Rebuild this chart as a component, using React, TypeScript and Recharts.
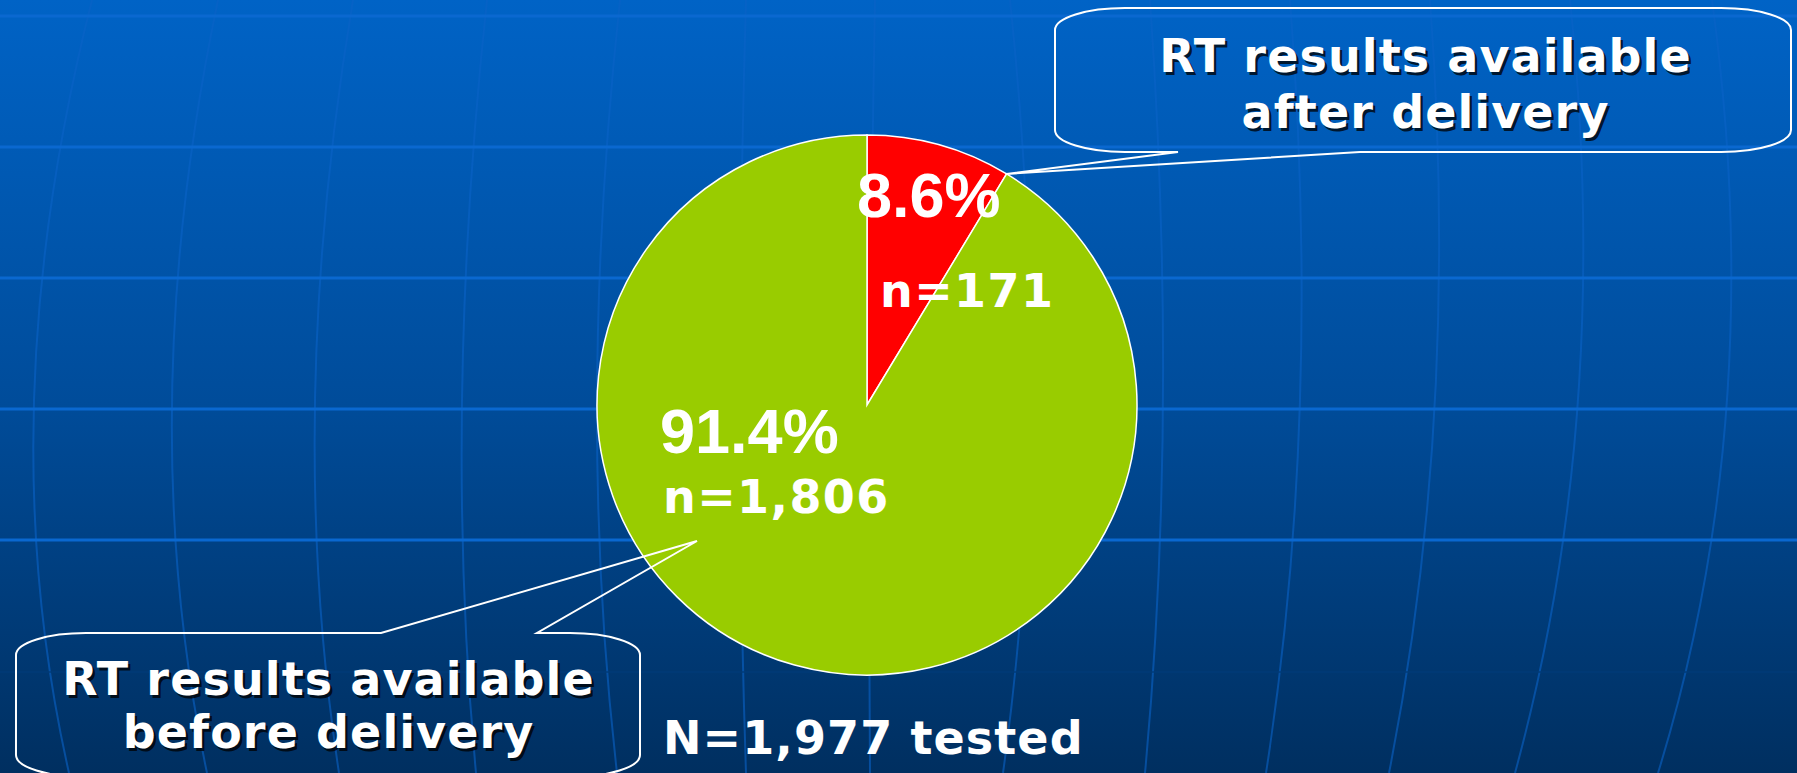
import { PieChart, Pie, Cell } from 'recharts';

const W = 1797;
const H = 773;
const FONT = '"Liberation Sans", Arial, sans-serif';
const WIDE_FONT = '"DejaVu Sans", Verdana, sans-serif';

// data
const categories = ['RT results available after delivery', 'RT results available before delivery'];
const counts = [171, 1806];
const sliceColors = ['#FF0000', '#99CC00'];
const calloutLines = [
  ['RT results available', 'after delivery'],
  ['RT results available', 'before delivery'],
];

const total = counts.reduce((a, b) => a + b, 0);
const pieData = categories.map((name, i) => ({ name, value: counts[i] }));

// slide background: horizontal bands and globe meridians (x at y=0, 400, 773)
const bandYs = [16, 147, 278, 409, 540];
const meridians = [
  [92, 34, 69], [218, 172, 207], [353, 315, 339], [487, 462, 476], [620, 597, 617],
  [746, 740, 746], [875, 870, 870], [1010, 1030, 1003], [1150, 1163, 1145],
  [1290, 1300, 1266], [1430, 1435, 1389], [1570, 1578, 1515], [1712, 1727, 1658],
];

// label text placement, relative to pie centre
const labelLayout = [
  { pct: { dx: -10, dy: -188 }, n: { dx: 13, dy: -98 } },
  { pct: { dx: -207, dy: 48 }, n: { dx: -204, dy: 108 } },
];

// callout boxes
const callouts = [
  { x: 1055, y: 8, w: 736, h: 144, baseL: 1178, baseR: 1360, edge: 'bottom', textX: 1425, lineYs: [72, 128] },
  { x: 16, y: 633, w: 624, h: 144, baseL: 381, baseR: 537, edge: 'top', textX: 328, lineYs: [695, 748], tip: { dx: -170, dy: 136 } },
];

const RAD = Math.PI / 180;
const LS = 1.1;

function calloutPath(c: any, tx: number, ty: number) {
  const rx = 70;
  const ry = 22;
  const { x, y, w, h } = c;
  const top =
    c.edge === 'top'
      ? `L ${c.baseL} ${y} L ${tx} ${ty} L ${c.baseR} ${y} L ${x + w - rx} ${y}`
      : `L ${x + w - rx} ${y}`;
  const bottom =
    c.edge === 'bottom'
      ? `L ${c.baseR} ${y + h} L ${tx} ${ty} L ${c.baseL} ${y + h} L ${x + rx} ${y + h}`
      : `L ${x + rx} ${y + h}`;
  return [
    `M ${x + rx} ${y}`,
    top,
    `A ${rx} ${ry} 0 0 1 ${x + w} ${y + ry}`,
    `L ${x + w} ${y + h - ry}`,
    `A ${rx} ${ry} 0 0 1 ${x + w - rx} ${y + h}`,
    bottom,
    `A ${rx} ${ry} 0 0 1 ${x} ${y + h - ry}`,
    `L ${x} ${y + ry}`,
    `A ${rx} ${ry} 0 0 1 ${x + rx} ${y}`,
    'Z',
  ].join(' ');
}

function ShadowText({ x, y, children }: { x: number; y: number; children: string }) {
  const common = {
    textAnchor: 'middle' as const,
    fontFamily: WIDE_FONT,
    fontWeight: 700,
    fontSize: 46,
    letterSpacing: LS,
  };
  return (
    <g>
      <text x={x + LS / 2 + 2.5} y={y + 2.5} fill="#000" fillOpacity={0.75} {...common}>
        {children}
      </text>
      <text x={x + LS / 2} y={y} fill="#fff" {...common}>
        {children}
      </text>
    </g>
  );
}

function renderLabel(props: any) {
  const { cx, cy, outerRadius, endAngle, index, value, percent } = props;
  const lay = labelLayout[index];
  const c = callouts[index];
  let tx: number;
  let ty: number;
  if (c.tip) {
    tx = cx + c.tip.dx;
    ty = cy + c.tip.dy;
  } else {
    tx = cx + outerRadius * Math.cos(-endAngle * RAD);
    ty = cy + outerRadius * Math.sin(-endAngle * RAD);
  }
  return (
    <g key={`lbl-${index}`}>
      <text
        x={cx + lay.pct.dx}
        y={cy + lay.pct.dy}
        fill="#fff"
        fontFamily={FONT}
        fontWeight={700}
        fontSize={63}
      >
        {(percent * 100).toFixed(1)}%
      </text>
      <text
        x={cx + lay.n.dx}
        y={cy + lay.n.dy}
        fill="#fff"
        fontFamily={WIDE_FONT}
        fontWeight={700}
        fontSize={46}
        letterSpacing={1.4}
      >
        n={value.toLocaleString('en-US')}
      </text>
      <path d={calloutPath(c, tx, ty)} fill="none" stroke="#fff" strokeWidth={2} />
      {calloutLines[index].map((line, i) => (
        <ShadowText key={i} x={c.textX} y={c.lineYs[i]}>
          {line}
        </ShadowText>
      ))}
    </g>
  );
}

function Background() {
  return (
    <svg width={W} height={H} style={{ position: 'absolute', left: 0, top: 0 }}>
      <defs>
        <linearGradient id="slideBg" x1="0" y1="0" x2="0" y2="1">
          <stop offset="0%" stopColor="#0063C6" />
          <stop offset="52%" stopColor="#004C9A" />
          <stop offset="100%" stopColor="#002F60" />
        </linearGradient>
      </defs>
      <rect x={0} y={0} width={W} height={H} fill="url(#slideBg)" />
      {meridians.map(([x0, x1, x2], i) => {
        const cxp = 2 * x1 - 0.5 * (x0 + x2);
        const cyp = 2 * 400 - 0.5 * (0 + H);
        return (
          <path
            key={i}
            d={`M ${x0} 0 Q ${cxp} ${cyp} ${x2} ${H}`}
            fill="none"
            stroke="#0A62C6"
            strokeOpacity={0.6}
            strokeWidth={2}
          />
        );
      })}
      <line x1={0} x2={W} y1={672} y2={672} stroke="#003A78" strokeWidth={2} strokeOpacity={0.7} />
      {bandYs.map((y) => (
        <line key={y} x1={0} x2={W} y1={y} y2={y} stroke="#0A68D0" strokeWidth={3} />
      ))}
      <text
        x={663}
        y={754}
        fill="#fff"
        fontFamily={WIDE_FONT}
        fontWeight={700}
        fontSize={46}
        letterSpacing={1.1}
      >
        N={total.toLocaleString('en-US')} tested
      </text>
    </svg>
  );
}

export default function App() {
  return (
    <div style={{ position: 'absolute', left: 0, top: 0, width: W, height: H, overflow: 'hidden' }}>
      <Background />
      <div style={{ position: 'absolute', left: 0, top: 0 }}>
        <PieChart width={W} height={H} margin={{ top: 0, right: 0, bottom: 0, left: 0 }}>
          <Pie
            data={pieData}
            dataKey="value"
            nameKey="name"
            cx={867}
            cy={405}
            outerRadius={270}
            startAngle={90}
            endAngle={-270}
            stroke="#ffffff"
            strokeWidth={1.5}
            label={renderLabel}
            labelLine={false}
            isAnimationActive={false}
          >
            {pieData.map((d, i) => (
              <Cell key={d.name} fill={sliceColors[i]} />
            ))}
          </Pie>
        </PieChart>
      </div>
    </div>
  );
}
